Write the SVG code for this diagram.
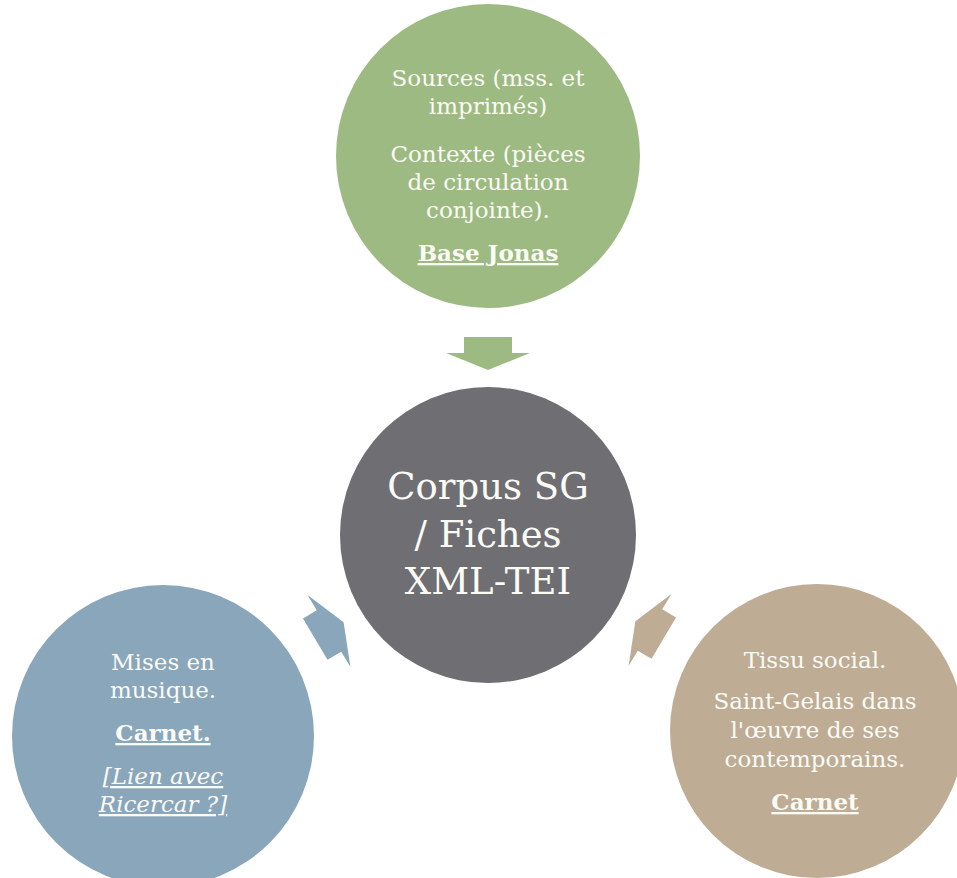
<svg xmlns="http://www.w3.org/2000/svg" width="957" height="878" viewBox="0 0 957 878">
  <style>
    .t { font-family: "DejaVu Serif", "Liberation Serif", serif; font-size: 23px; fill: #fbfbf6; text-anchor: middle; }
    .b { font-weight: bold; text-decoration: underline; }
    .i { font-style: italic; text-decoration: underline; }
    .big { font-family: "DejaVu Serif", "Liberation Serif", serif; font-size: 37px; fill: #fbfbf6; text-anchor: middle; }
  </style>
  <defs>
    <path id="arr" d="M-24,-16 H24 V0 H42 L0,17 L-42,0 H-24 Z"/>
  </defs>
  <rect width="957" height="878" fill="#ffffff"/>
  <g id="connectors">
    <use href="#arr" fill="#9dba82" transform="translate(488,353)"/>
    <use href="#arr" fill="#89a6ba" transform="translate(329,631) rotate(-120.7)"/>
    <use href="#arr" fill="#beac95" transform="translate(650,630) rotate(120.7)"/>
  </g>
  <g id="node-sources">
    <circle cx="488" cy="156" r="152" fill="#9dba82"/>
    <text class="t" x="488" y="86">Sources (mss. et</text>
    <text class="t" x="488" y="114">imprimés)</text>
    <text class="t" x="488" y="162">Contexte (pièces</text>
    <text class="t" x="488" y="190">de circulation</text>
    <text class="t" x="488" y="218">conjointe).</text>
    <text class="t b" x="488" y="261">Base Jonas</text>
  </g>
  <g id="node-corpus">
    <circle cx="488" cy="535" r="148" fill="#6e6e73"/>
    <text class="big" x="488" y="499">Corpus SG</text>
    <text class="big" x="488" y="547">/ Fiches</text>
    <text class="big" x="488" y="594">XML-TEI</text>
  </g>
  <g id="node-musique">
    <circle cx="163" cy="736" r="151" fill="#89a6ba"/>
    <text class="t" x="163" y="670">Mises en</text>
    <text class="t" x="163" y="698">musique.</text>
    <text class="t b" x="163" y="741">Carnet.</text>
    <text class="t i" x="163" y="784">[Lien avec</text>
    <text class="t i" x="163" y="812">Ricercar ?]</text>
  </g>
  <g id="node-tissu">
    <circle cx="817" cy="731" r="147" fill="#beac95"/>
    <text class="t" x="815" y="668">Tissu social.</text>
    <text class="t" x="815" y="709">Saint-Gelais dans</text>
    <text class="t" x="815" y="738">l'œuvre de ses</text>
    <text class="t" x="815" y="767">contemporains.</text>
    <text class="t b" x="815" y="810">Carnet</text>
  </g>
</svg>
